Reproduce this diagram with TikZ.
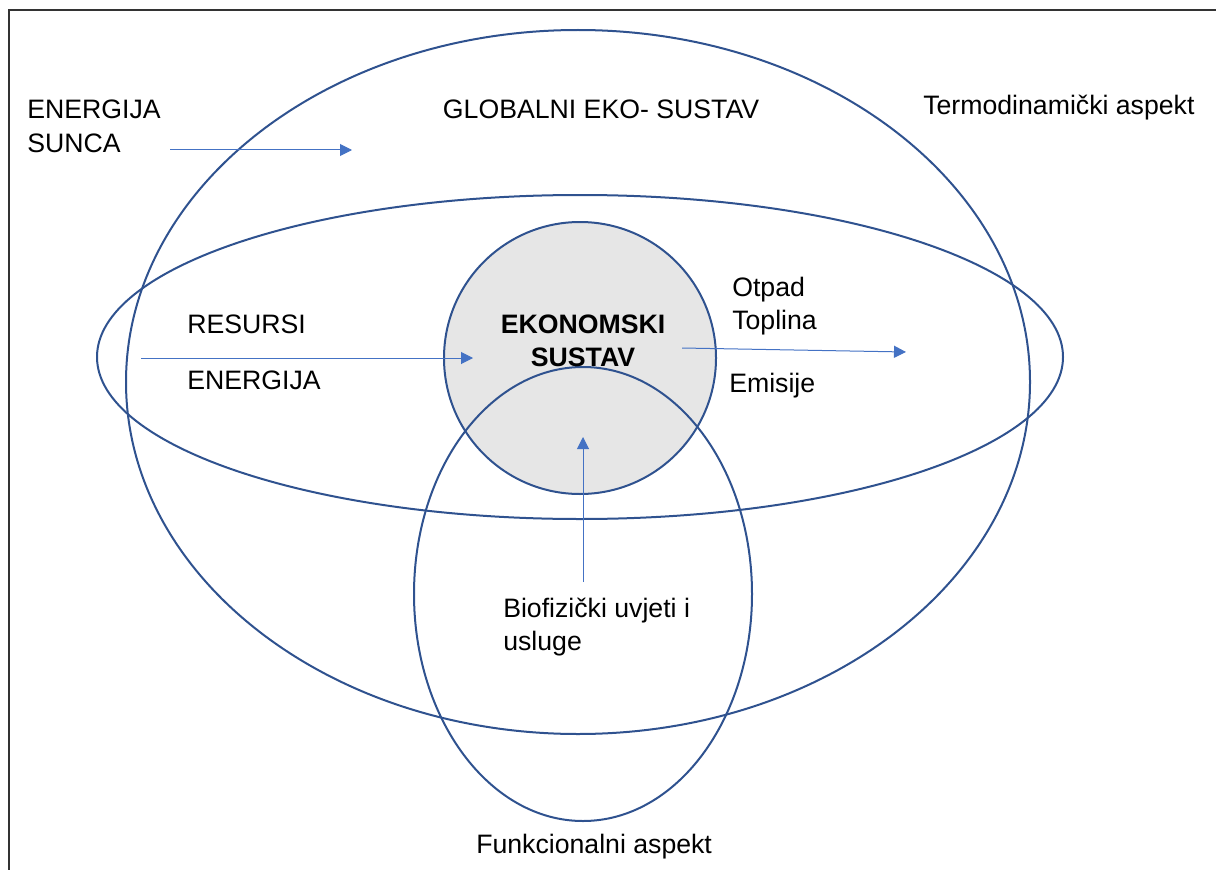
\documentclass[tikz,border=0pt]{standalone}
\usepackage{fontspec}
\setmainfont{Liberation Sans}
\usetikzlibrary{arrows.meta}
\definecolor{ringblue}{RGB}{47,82,143}
\definecolor{flowblue}{RGB}{68,114,196}
\definecolor{econgray}{RGB}{230,230,230}
\tikzset{
  ring/.style={draw=ringblue, line width=1.5pt},
  flow/.style={draw=flowblue, line width=0.75pt, -{Triangle[length=9pt,width=9pt]}},
  lbl/.style={font=\fontsize{20}{24.75}\selectfont, inner sep=0pt, anchor=base west},
  frame/.style={draw=black!80, line width=1.1pt}
}
\begin{document}
\begin{tikzpicture}[x=0.75pt,y=-0.75pt]
\useasboundingbox (0,0) rectangle (1216,870);
\draw[frame] (9,870) -- (9,10) -- (1216,10);
\begin{scope}[local bounding box=rings]
  \fill[econgray] (580,358) circle [radius=136];
  \draw[ring] (578,382) ellipse [x radius=452, y radius=352];
  \draw[ring] (580,357) ellipse [x radius=483, y radius=162];
  \draw[ring] (583,594) ellipse [x radius=169, y radius=227];
  \draw[ring] (580,358) circle [radius=136];
\end{scope}
\begin{scope}
  \coordinate (sunA) at (170,150);\coordinate (sunB) at (352,150);
  \coordinate (resA) at (141,358);\coordinate (resB) at (473,358);
  \coordinate (outA) at (682,348);\coordinate (outB) at (906,352);
  \coordinate (bioA) at (583,582);\coordinate (bioB) at (583,437);
  \draw[flow] (sunA) -- (sunB);\draw[flow] (resA) -- (resB);\draw[flow] (outA) -- (outB);\draw[flow] (bioA) -- (bioB);
\end{scope}
\begin{scope}[every node/.style={lbl}]
  \node (sun1) at (27,119) {ENERGIJA};\node (sun2) at (27,152) {SUNCA};
  \node[anchor=base] (geo) at (601,119) {GLOBALNI EKO- SUSTAV};
  \node (thermo) at (923,115) {Termodinamički aspekt};
  \node (res1) at (187,333) {RESURSI};\node (res2) at (187,389) {ENERGIJA};
  \node[anchor=base, font=\fontsize{20}{24.75}\selectfont\bfseries] (eko1) at (583,333) {EKONOMSKI};
  \node[anchor=base, font=\fontsize{20}{24.75}\selectfont\bfseries] (eko2) at (583,366) {SUSTAV};
  \node (out1) at (732,296) {Otpad};\node (out2) at (732,329) {Toplina};\node (out3) at (729,392) {Emisije};
  \node (bio1) at (503,617) {Biofizički uvjeti i};\node (bio2) at (503,650) {usluge};
  \node (func) at (476,853) {Funkcionalni aspekt};
\end{scope}
\end{tikzpicture}
\end{document}
